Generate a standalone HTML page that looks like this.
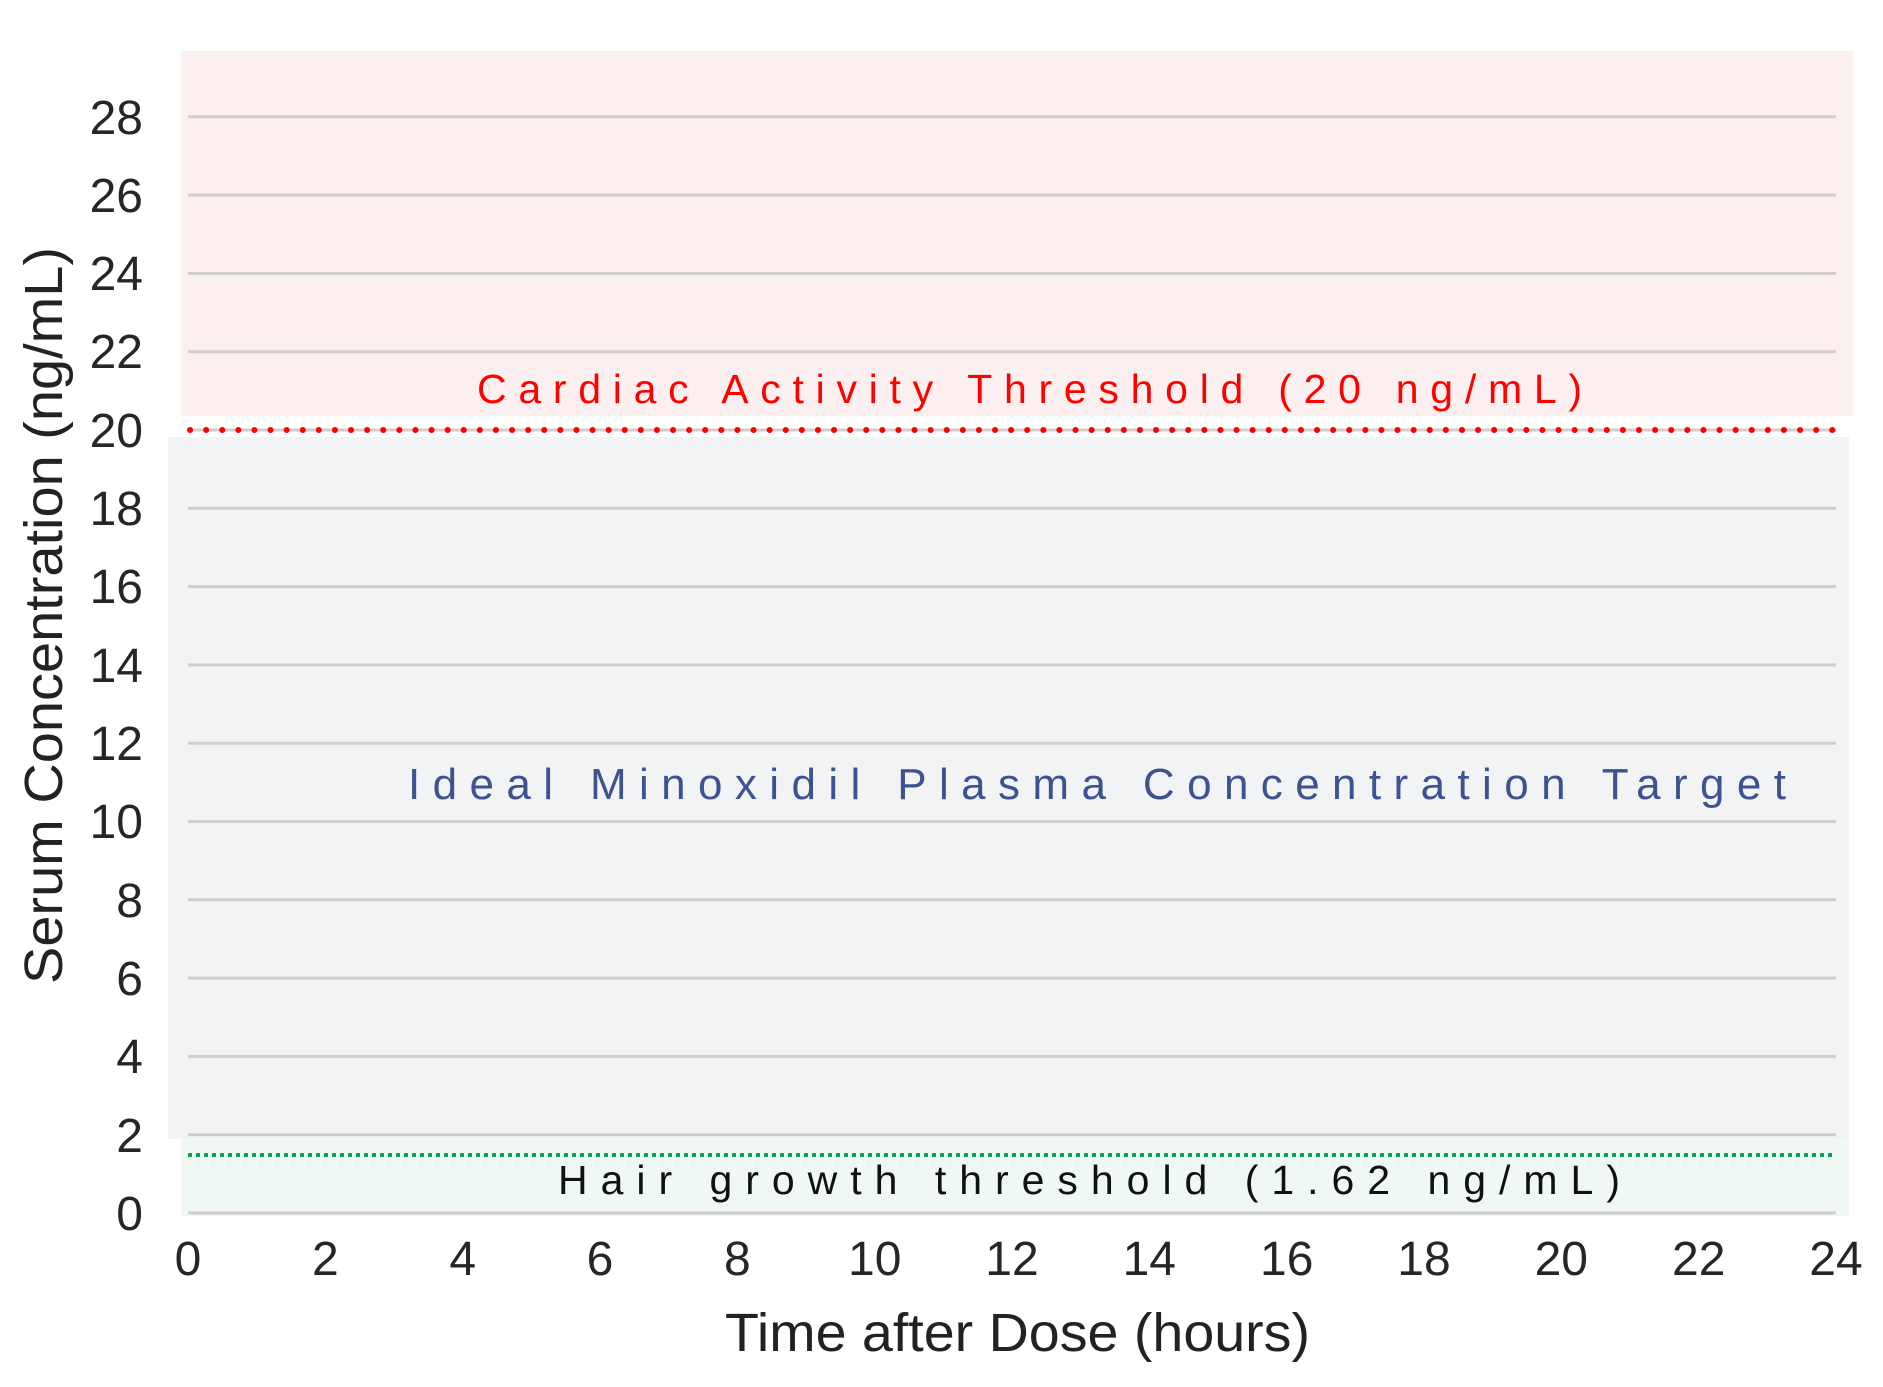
<!DOCTYPE html>
<html><head><meta charset="utf-8"><style>
html,body{margin:0;padding:0;background:#fff;}
svg{display:block;}
</style></head><body>
<svg width="1883" height="1387" viewBox="0 0 1883 1387" xmlns="http://www.w3.org/2000/svg" font-family="Liberation Sans, sans-serif">
<rect x="0" y="0" width="1883" height="1387" fill="#fff"/>
<rect x="181" y="51" width="1672" height="365" fill="#fbf0ef"/>
<rect x="168" y="437" width="1681" height="702" fill="#f2f3f5"/>
<rect x="181" y="1139" width="1668" height="77" fill="#eff8f3"/>
<g stroke="#d0cdcd" stroke-width="3">
<line x1="188" x2="1836" y1="1213" y2="1213"/>
<line x1="188" x2="1836" y1="1134.7" y2="1134.7"/>
<line x1="188" x2="1836" y1="1056.4" y2="1056.4"/>
<line x1="188" x2="1836" y1="978.1" y2="978.1"/>
<line x1="188" x2="1836" y1="899.8" y2="899.8"/>
<line x1="188" x2="1836" y1="821.5" y2="821.5"/>
<line x1="188" x2="1836" y1="743.2" y2="743.2"/>
<line x1="188" x2="1836" y1="664.9" y2="664.9"/>
<line x1="188" x2="1836" y1="586.6" y2="586.6"/>
<line x1="188" x2="1836" y1="508.3" y2="508.3"/>
<line x1="188" x2="1836" y1="430" y2="430"/>
<line x1="188" x2="1836" y1="351.7" y2="351.7"/>
<line x1="188" x2="1836" y1="273.4" y2="273.4"/>
<line x1="188" x2="1836" y1="195.1" y2="195.1"/>
<line x1="188" x2="1836" y1="116.8" y2="116.8"/>
</g>
<line x1="190" x2="1836" y1="430" y2="430" stroke="#ff0000" stroke-width="6" stroke-linecap="round" stroke-dasharray="0.1 16"/>
<line x1="188" x2="1836" y1="1155" y2="1155" stroke="#00a84f" stroke-width="4" stroke-dasharray="4 4"/>
<text x="477" y="403" font-size="41" fill="#ff0000" textLength="1105" lengthAdjust="spacing">Cardiac Activity Threshold (20 ng/mL)</text>
<text x="408" y="799" font-size="44" fill="#3d5291" textLength="1378" lengthAdjust="spacing">Ideal Minoxidil Plasma Concentration Target</text>
<text x="558" y="1194" font-size="41" fill="#111" textLength="1062" lengthAdjust="spacing">Hair growth threshold (1.62 ng/mL)</text>
<g font-size="48" fill="#262626" text-anchor="end">
<text x="143" y="1230">0</text>
<text x="143" y="1152">2</text>
<text x="143" y="1073">4</text>
<text x="143" y="995">6</text>
<text x="143" y="917">8</text>
<text x="143" y="838">10</text>
<text x="143" y="760">12</text>
<text x="143" y="682">14</text>
<text x="143" y="603">16</text>
<text x="143" y="525">18</text>
<text x="143" y="447">20</text>
<text x="143" y="368">22</text>
<text x="143" y="290">24</text>
<text x="143" y="212">26</text>
<text x="143" y="134">28</text>
</g>
<g font-size="48" fill="#262626" text-anchor="middle">
<text x="188" y="1275">0</text>
<text x="325.3" y="1275">2</text>
<text x="462.7" y="1275">4</text>
<text x="600" y="1275">6</text>
<text x="737.3" y="1275">8</text>
<text x="874.7" y="1275">10</text>
<text x="1012" y="1275">12</text>
<text x="1149.3" y="1275">14</text>
<text x="1286.7" y="1275">16</text>
<text x="1424" y="1275">18</text>
<text x="1561.3" y="1275">20</text>
<text x="1698.7" y="1275">22</text>
<text x="1836" y="1275">24</text>
</g>
<text x="725" y="1351" font-size="54" fill="#222" textLength="585" lengthAdjust="spacingAndGlyphs">Time after Dose (hours)</text>
<text transform="translate(62,984) rotate(-90)" x="0" y="0" font-size="54" fill="#222" textLength="737" lengthAdjust="spacingAndGlyphs">Serum Concentration (ng/mL)</text>
</svg>
</body></html>
